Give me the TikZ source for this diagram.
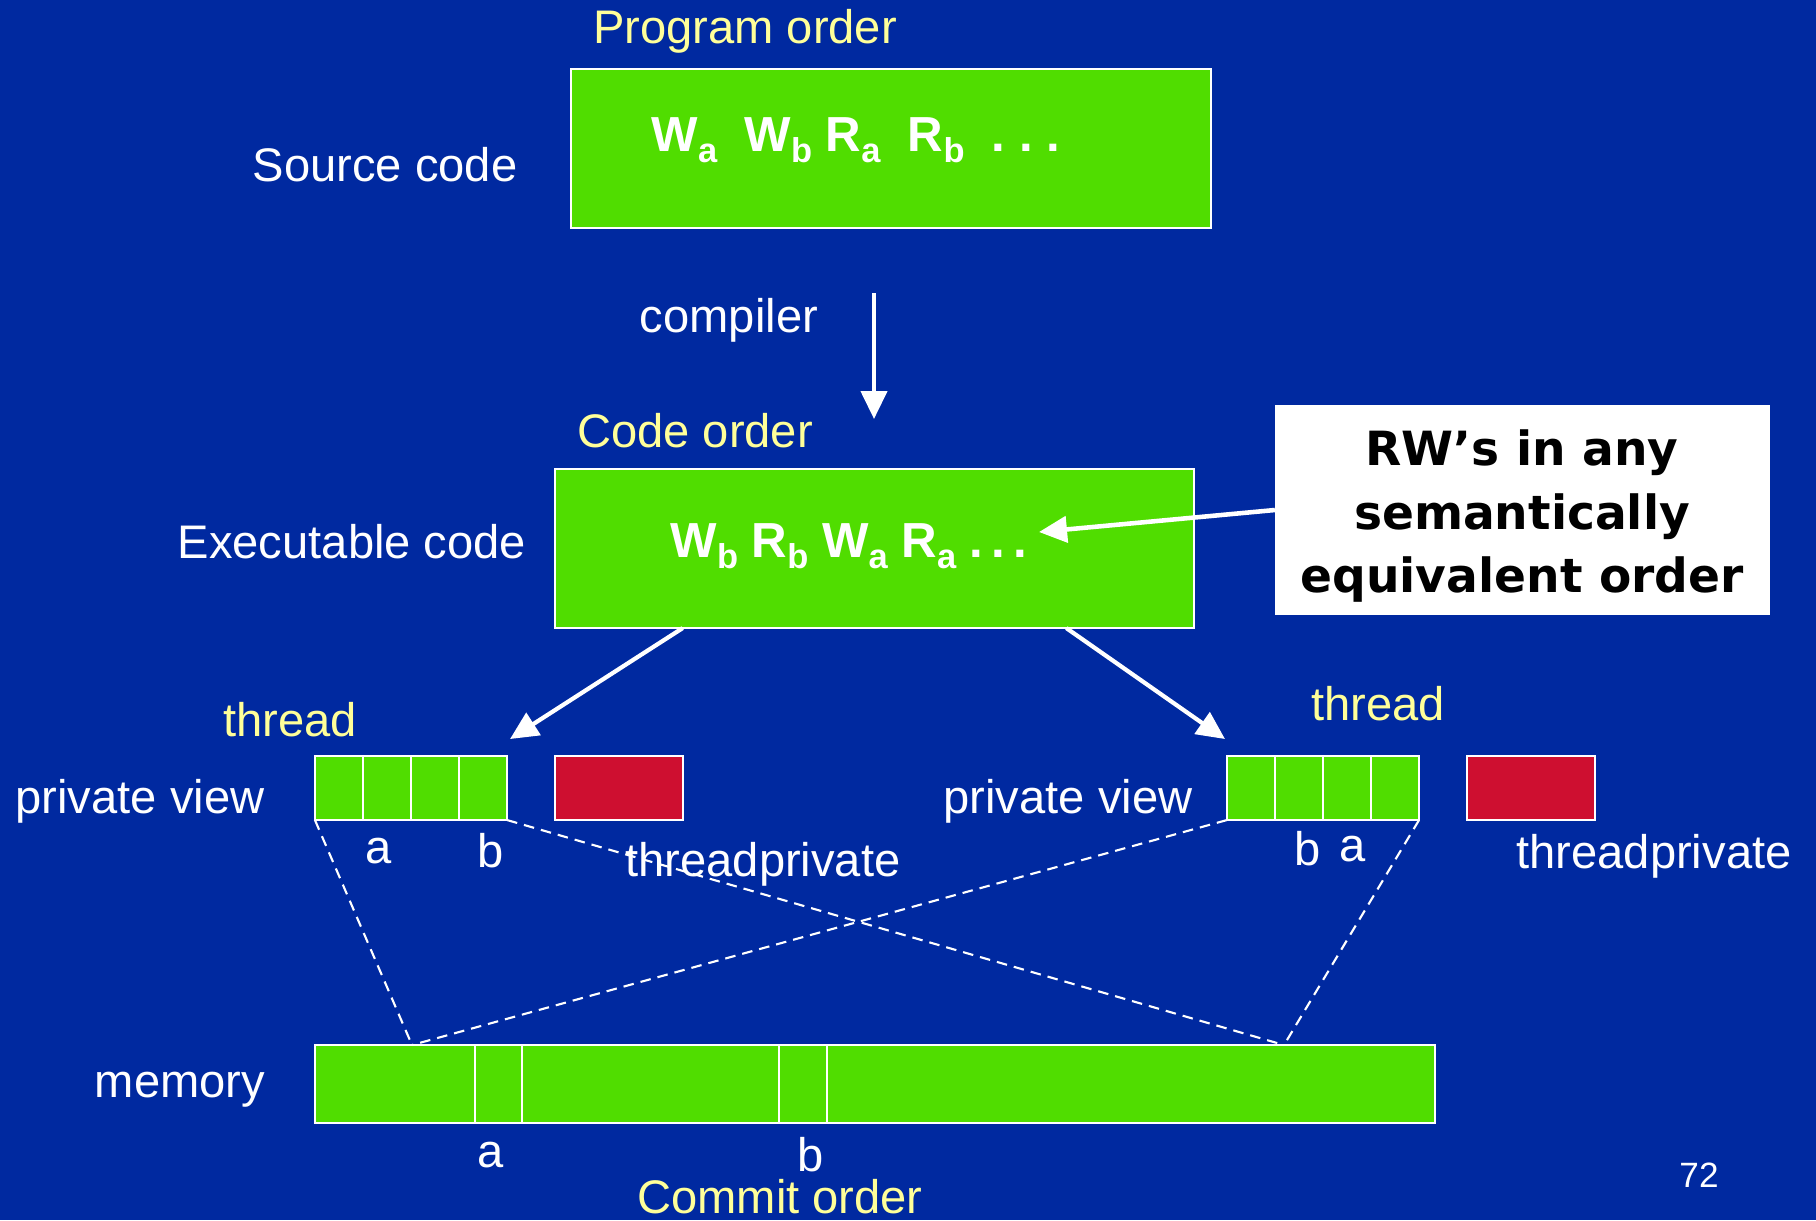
\documentclass[tikz,border=0pt]{standalone}
\usepackage{fontspec}
\setmainfont{Liberation Sans}
\newfontfamily\calloutfont{DejaVu Sans}
\usetikzlibrary{arrows.meta,positioning,calc}

\definecolor{slideblue}{RGB}{0,41,160}
\definecolor{slidegreen}{RGB}{80,221,0}
\definecolor{slidered}{RGB}{206,15,48}
\definecolor{slideyellow}{RGB}{255,255,153}

% lowered subscript as on the slide
\newcommand{\lowsub}[1]{\raisebox{-3.4pt}{\fontsize{9.8}{10}\selectfont #1}}

\begin{document}
\begin{tikzpicture}[x=0.01cm, y=-0.01cm,
        font=\fontsize{13.4}{16}\selectfont, text=white]

        % box styles
        \tikzset{
            codebox/.style={draw=white, line width=0.6pt, fill=slidegreen,
                inner sep=0pt, outer sep=0pt,
                minimum width=6.4cm, minimum height=1.59cm},
            cellbox/.style={draw=white, line width=0.6pt, fill=slidegreen,
                inner sep=0pt, outer sep=0pt,
                minimum width=1.92cm, minimum height=0.64cm},
            tpbox/.style={draw=white, line width=0.6pt, fill=slidered,
                inner sep=0pt, outer sep=0pt,
                minimum width=1.28cm, minimum height=0.64cm},
            ordertext/.style={text=slideyellow},
            optext/.style={anchor=base west, inner sep=0pt,
                font=\fontsize{14}{16}\selectfont\bfseries},
            bigarrow/.style={draw=white, line width=1.2pt,
                -{Triangle[length=0.28cm, width=0.26cm]}},
            viewline/.style={draw=white, line width=0.6pt,
                dash pattern=on 3pt off 2pt}
        }

        % background and page size
        \useasboundingbox (0,0) rectangle (1816,1220);
        \fill[slideblue] (0,0) rectangle (1816,1220);

        % Scope with the code boxes
        \begin{scope}
            \node[ordertext] (PO) at (745,31) {Program order};
            \node[codebox] (src) at (891,148.5) {};
            \node[optext] (F1) at (651,151)
            {W\lowsub{a}\ \ W\lowsub{b} R\lowsub{a}\ \ R\lowsub{b}\ \ .\ .\ .};
            \node (SC) at (385,165) {Source code};

            \node (CP) at (729,320) {compiler};
            \coordinate (cTop) at (874,293);
            \coordinate (cBot) at (874,419);

            \node[ordertext] (CO) at (695,431) {Code order};
            \node[codebox, minimum width=6.39cm] (exec) at (874.5,548.5) {};
            \node[optext] (F2) at (670,557)
            {W\lowsub{b} R\lowsub{b} W\lowsub{a} R\lowsub{a} .\,.\,.};
            \node (EC) at (352,542) {Executable code};

            \node[fill=white, inner sep=0pt, outer sep=0pt,
                minimum width=4.95cm, minimum height=2.1cm]
                (RW) at (1522.5,510) {};
            \node[text=black, align=center, inner sep=0pt,
                font=\calloutfont\bfseries\fontsize{13.4}{18.1}\selectfont]
                (RWtext) at (1522,516)
            {RW’s in any\\semantically\\equivalent order};
            \coordinate (rwtip) at (1039,532);
        \end{scope}

        % Scope with the threads
        \begin{scope}
            \node[ordertext] (thL) at (290,720) {thread};
            \node[cellbox] (pvL) at (411,788) {};
            \node[tpbox] (tpL) at (619,788) {};
            \node (pvtL) at (140,801) {private view};
            \node (aL) at (379,851) {a};
            \node (bL) at (491,851) {b};
            \node (tptL) at (763,864) {threadprivate};
            \coordinate (tipL) at (510,739);

            \node[ordertext] (thR) at (1378,704) {thread};
            \node[cellbox] (pvR) at (1323,788) {};
            \node[tpbox] (tpR) at (1531,788) {};
            \node (pvtR) at (1068,801) {private view};
            \node (bR) at (1308,849) {b};
            \node (aR) at (1353,849) {a};
            \node (tptR) at (1654,856) {threadprivate};
            \coordinate (tipR) at (1225,739);

            \foreach \s in {0.48,0.96,1.44} {
                \draw[white, line width=0.6pt]
                    ([xshift=\s cm]pvL.north west) -- ([xshift=\s cm]pvL.south west);
                \draw[white, line width=0.6pt]
                    ([xshift=\s cm]pvR.north west) -- ([xshift=\s cm]pvR.south west);
            }
        \end{scope}

        % Scope with the memory
        \begin{scope}
            \node[codebox, minimum width=11.2cm, minimum height=0.78cm]
                (mem) at (875,1084) {};
            \foreach \s in {1.60,2.07,4.64,5.12}
                \draw[white, line width=0.6pt]
                    ([xshift=\s cm]mem.north west) -- ([xshift=\s cm]mem.south west);
            \node (memT) at (180,1090) {memory};
            \node[inner sep=0pt] (aM) at (491,1155) {a};
            \node[inner sep=0pt] (bM) at (811,1155) {b};
            \node[ordertext, inner sep=0pt] (CMO) at (780,1197) {Commit order};
            \node[font=\fontsize{10}{12}\selectfont] (pg) at (1699,1175) {72};
            \coordinate (mA) at (412,1045);
            \coordinate (mB) at (1284,1045);
        \end{scope}

        \begin{scope}
            \draw[bigarrow] (cTop) -- (cBot);
            \draw[bigarrow, line width=1.3pt] (RW.west) -- (rwtip);
            \draw[bigarrow]
                ($(exec.south west)!0.2!(exec.south east)$) -- (tipL);
            \draw[bigarrow]
                ($(exec.south west)!0.8!(exec.south east)$) -- (tipR);
            \draw[viewline] (pvL.south west) -- (mA);
            \draw[viewline] (pvL.south east) -- (mB);
            \draw[viewline] (pvR.south west) -- (mA);
            \draw[viewline] (pvR.south east) -- (mB);
        \end{scope}

\end{tikzpicture}
\end{document}
